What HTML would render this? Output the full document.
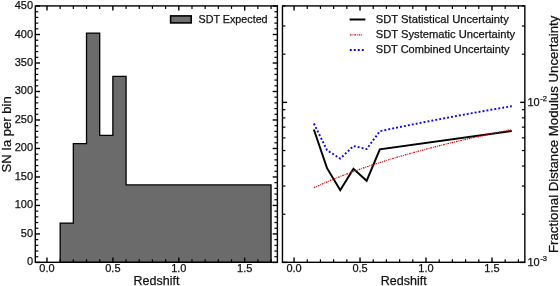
<!DOCTYPE html>
<html><head><meta charset="utf-8"><style>
html,body{margin:0;padding:0;background:#fff;}
body{width:560px;height:286px;overflow:hidden;}
svg{display:block;font-family:"Liberation Sans", sans-serif;}
text{fill:#111;stroke:#111;stroke-width:0.25px;}
</style></head><body>
<svg width="560" height="286" viewBox="0 0 560 286">
<defs><filter id="gs" x="0" y="0" width="560" height="286" filterUnits="userSpaceOnUse"><feColorMatrix type="saturate" values="0"/></filter></defs>
<rect width="560" height="286" fill="#fff"/>
<path d="M60.16,262.43 L60.16,223.11 L73.34,223.11 L73.34,143.63 L86.52,143.63 L86.52,33.03 L99.70,33.03 L99.70,135.31 L112.88,135.31 L112.88,76.39 L126.07,76.39 L126.07,184.94 L271.06,184.94 L271.06,262.43 Z" fill="#6b6b6b" stroke="#000" stroke-width="1.3" stroke-linejoin="miter"/>
<line x1="46.98" y1="262.30" x2="46.98" y2="257.60" stroke="#000" stroke-width="1.4" />
<line x1="46.98" y1="5.90" x2="46.98" y2="10.60" stroke="#000" stroke-width="1.4" />
<line x1="60.16" y1="262.30" x2="60.16" y2="259.30" stroke="#000" stroke-width="1.2" />
<line x1="60.16" y1="5.90" x2="60.16" y2="8.90" stroke="#000" stroke-width="1.2" />
<line x1="73.34" y1="262.30" x2="73.34" y2="259.30" stroke="#000" stroke-width="1.2" />
<line x1="73.34" y1="5.90" x2="73.34" y2="8.90" stroke="#000" stroke-width="1.2" />
<line x1="86.52" y1="262.30" x2="86.52" y2="259.30" stroke="#000" stroke-width="1.2" />
<line x1="86.52" y1="5.90" x2="86.52" y2="8.90" stroke="#000" stroke-width="1.2" />
<line x1="99.70" y1="262.30" x2="99.70" y2="259.30" stroke="#000" stroke-width="1.2" />
<line x1="99.70" y1="5.90" x2="99.70" y2="8.90" stroke="#000" stroke-width="1.2" />
<line x1="112.88" y1="262.30" x2="112.88" y2="257.60" stroke="#000" stroke-width="1.4" />
<line x1="112.88" y1="5.90" x2="112.88" y2="10.60" stroke="#000" stroke-width="1.4" />
<line x1="126.07" y1="262.30" x2="126.07" y2="259.30" stroke="#000" stroke-width="1.2" />
<line x1="126.07" y1="5.90" x2="126.07" y2="8.90" stroke="#000" stroke-width="1.2" />
<line x1="139.25" y1="262.30" x2="139.25" y2="259.30" stroke="#000" stroke-width="1.2" />
<line x1="139.25" y1="5.90" x2="139.25" y2="8.90" stroke="#000" stroke-width="1.2" />
<line x1="152.43" y1="262.30" x2="152.43" y2="259.30" stroke="#000" stroke-width="1.2" />
<line x1="152.43" y1="5.90" x2="152.43" y2="8.90" stroke="#000" stroke-width="1.2" />
<line x1="165.61" y1="262.30" x2="165.61" y2="259.30" stroke="#000" stroke-width="1.2" />
<line x1="165.61" y1="5.90" x2="165.61" y2="8.90" stroke="#000" stroke-width="1.2" />
<line x1="178.79" y1="262.30" x2="178.79" y2="257.60" stroke="#000" stroke-width="1.4" />
<line x1="178.79" y1="5.90" x2="178.79" y2="10.60" stroke="#000" stroke-width="1.4" />
<line x1="191.97" y1="262.30" x2="191.97" y2="259.30" stroke="#000" stroke-width="1.2" />
<line x1="191.97" y1="5.90" x2="191.97" y2="8.90" stroke="#000" stroke-width="1.2" />
<line x1="205.15" y1="262.30" x2="205.15" y2="259.30" stroke="#000" stroke-width="1.2" />
<line x1="205.15" y1="5.90" x2="205.15" y2="8.90" stroke="#000" stroke-width="1.2" />
<line x1="218.33" y1="262.30" x2="218.33" y2="259.30" stroke="#000" stroke-width="1.2" />
<line x1="218.33" y1="5.90" x2="218.33" y2="8.90" stroke="#000" stroke-width="1.2" />
<line x1="231.51" y1="262.30" x2="231.51" y2="259.30" stroke="#000" stroke-width="1.2" />
<line x1="231.51" y1="5.90" x2="231.51" y2="8.90" stroke="#000" stroke-width="1.2" />
<line x1="244.69" y1="262.30" x2="244.69" y2="257.60" stroke="#000" stroke-width="1.4" />
<line x1="244.69" y1="5.90" x2="244.69" y2="10.60" stroke="#000" stroke-width="1.4" />
<line x1="257.88" y1="262.30" x2="257.88" y2="259.30" stroke="#000" stroke-width="1.2" />
<line x1="257.88" y1="5.90" x2="257.88" y2="8.90" stroke="#000" stroke-width="1.2" />
<line x1="271.06" y1="262.30" x2="271.06" y2="259.30" stroke="#000" stroke-width="1.2" />
<line x1="271.06" y1="5.90" x2="271.06" y2="8.90" stroke="#000" stroke-width="1.2" />
<line x1="35.30" y1="262.43" x2="40.00" y2="262.43" stroke="#000" stroke-width="1.4" />
<line x1="277.40" y1="262.43" x2="272.70" y2="262.43" stroke="#000" stroke-width="1.4" />
<line x1="35.30" y1="256.73" x2="38.30" y2="256.73" stroke="#000" stroke-width="1.2" />
<line x1="277.40" y1="256.73" x2="274.40" y2="256.73" stroke="#000" stroke-width="1.2" />
<line x1="35.30" y1="251.03" x2="38.30" y2="251.03" stroke="#000" stroke-width="1.2" />
<line x1="277.40" y1="251.03" x2="274.40" y2="251.03" stroke="#000" stroke-width="1.2" />
<line x1="35.30" y1="245.34" x2="38.30" y2="245.34" stroke="#000" stroke-width="1.2" />
<line x1="277.40" y1="245.34" x2="274.40" y2="245.34" stroke="#000" stroke-width="1.2" />
<line x1="35.30" y1="239.64" x2="38.30" y2="239.64" stroke="#000" stroke-width="1.2" />
<line x1="277.40" y1="239.64" x2="274.40" y2="239.64" stroke="#000" stroke-width="1.2" />
<line x1="35.30" y1="233.94" x2="40.00" y2="233.94" stroke="#000" stroke-width="1.4" />
<line x1="277.40" y1="233.94" x2="272.70" y2="233.94" stroke="#000" stroke-width="1.4" />
<line x1="35.30" y1="228.24" x2="38.30" y2="228.24" stroke="#000" stroke-width="1.2" />
<line x1="277.40" y1="228.24" x2="274.40" y2="228.24" stroke="#000" stroke-width="1.2" />
<line x1="35.30" y1="222.54" x2="38.30" y2="222.54" stroke="#000" stroke-width="1.2" />
<line x1="277.40" y1="222.54" x2="274.40" y2="222.54" stroke="#000" stroke-width="1.2" />
<line x1="35.30" y1="216.85" x2="38.30" y2="216.85" stroke="#000" stroke-width="1.2" />
<line x1="277.40" y1="216.85" x2="274.40" y2="216.85" stroke="#000" stroke-width="1.2" />
<line x1="35.30" y1="211.15" x2="38.30" y2="211.15" stroke="#000" stroke-width="1.2" />
<line x1="277.40" y1="211.15" x2="274.40" y2="211.15" stroke="#000" stroke-width="1.2" />
<line x1="35.30" y1="205.45" x2="40.00" y2="205.45" stroke="#000" stroke-width="1.4" />
<line x1="277.40" y1="205.45" x2="272.70" y2="205.45" stroke="#000" stroke-width="1.4" />
<line x1="35.30" y1="199.75" x2="38.30" y2="199.75" stroke="#000" stroke-width="1.2" />
<line x1="277.40" y1="199.75" x2="274.40" y2="199.75" stroke="#000" stroke-width="1.2" />
<line x1="35.30" y1="194.05" x2="38.30" y2="194.05" stroke="#000" stroke-width="1.2" />
<line x1="277.40" y1="194.05" x2="274.40" y2="194.05" stroke="#000" stroke-width="1.2" />
<line x1="35.30" y1="188.36" x2="38.30" y2="188.36" stroke="#000" stroke-width="1.2" />
<line x1="277.40" y1="188.36" x2="274.40" y2="188.36" stroke="#000" stroke-width="1.2" />
<line x1="35.30" y1="182.66" x2="38.30" y2="182.66" stroke="#000" stroke-width="1.2" />
<line x1="277.40" y1="182.66" x2="274.40" y2="182.66" stroke="#000" stroke-width="1.2" />
<line x1="35.30" y1="176.96" x2="40.00" y2="176.96" stroke="#000" stroke-width="1.4" />
<line x1="277.40" y1="176.96" x2="272.70" y2="176.96" stroke="#000" stroke-width="1.4" />
<line x1="35.30" y1="171.26" x2="38.30" y2="171.26" stroke="#000" stroke-width="1.2" />
<line x1="277.40" y1="171.26" x2="274.40" y2="171.26" stroke="#000" stroke-width="1.2" />
<line x1="35.30" y1="165.56" x2="38.30" y2="165.56" stroke="#000" stroke-width="1.2" />
<line x1="277.40" y1="165.56" x2="274.40" y2="165.56" stroke="#000" stroke-width="1.2" />
<line x1="35.30" y1="159.87" x2="38.30" y2="159.87" stroke="#000" stroke-width="1.2" />
<line x1="277.40" y1="159.87" x2="274.40" y2="159.87" stroke="#000" stroke-width="1.2" />
<line x1="35.30" y1="154.17" x2="38.30" y2="154.17" stroke="#000" stroke-width="1.2" />
<line x1="277.40" y1="154.17" x2="274.40" y2="154.17" stroke="#000" stroke-width="1.2" />
<line x1="35.30" y1="148.47" x2="40.00" y2="148.47" stroke="#000" stroke-width="1.4" />
<line x1="277.40" y1="148.47" x2="272.70" y2="148.47" stroke="#000" stroke-width="1.4" />
<line x1="35.30" y1="142.77" x2="38.30" y2="142.77" stroke="#000" stroke-width="1.2" />
<line x1="277.40" y1="142.77" x2="274.40" y2="142.77" stroke="#000" stroke-width="1.2" />
<line x1="35.30" y1="137.07" x2="38.30" y2="137.07" stroke="#000" stroke-width="1.2" />
<line x1="277.40" y1="137.07" x2="274.40" y2="137.07" stroke="#000" stroke-width="1.2" />
<line x1="35.30" y1="131.38" x2="38.30" y2="131.38" stroke="#000" stroke-width="1.2" />
<line x1="277.40" y1="131.38" x2="274.40" y2="131.38" stroke="#000" stroke-width="1.2" />
<line x1="35.30" y1="125.68" x2="38.30" y2="125.68" stroke="#000" stroke-width="1.2" />
<line x1="277.40" y1="125.68" x2="274.40" y2="125.68" stroke="#000" stroke-width="1.2" />
<line x1="35.30" y1="119.98" x2="40.00" y2="119.98" stroke="#000" stroke-width="1.4" />
<line x1="277.40" y1="119.98" x2="272.70" y2="119.98" stroke="#000" stroke-width="1.4" />
<line x1="35.30" y1="114.28" x2="38.30" y2="114.28" stroke="#000" stroke-width="1.2" />
<line x1="277.40" y1="114.28" x2="274.40" y2="114.28" stroke="#000" stroke-width="1.2" />
<line x1="35.30" y1="108.58" x2="38.30" y2="108.58" stroke="#000" stroke-width="1.2" />
<line x1="277.40" y1="108.58" x2="274.40" y2="108.58" stroke="#000" stroke-width="1.2" />
<line x1="35.30" y1="102.89" x2="38.30" y2="102.89" stroke="#000" stroke-width="1.2" />
<line x1="277.40" y1="102.89" x2="274.40" y2="102.89" stroke="#000" stroke-width="1.2" />
<line x1="35.30" y1="97.19" x2="38.30" y2="97.19" stroke="#000" stroke-width="1.2" />
<line x1="277.40" y1="97.19" x2="274.40" y2="97.19" stroke="#000" stroke-width="1.2" />
<line x1="35.30" y1="91.49" x2="40.00" y2="91.49" stroke="#000" stroke-width="1.4" />
<line x1="277.40" y1="91.49" x2="272.70" y2="91.49" stroke="#000" stroke-width="1.4" />
<line x1="35.30" y1="85.79" x2="38.30" y2="85.79" stroke="#000" stroke-width="1.2" />
<line x1="277.40" y1="85.79" x2="274.40" y2="85.79" stroke="#000" stroke-width="1.2" />
<line x1="35.30" y1="80.09" x2="38.30" y2="80.09" stroke="#000" stroke-width="1.2" />
<line x1="277.40" y1="80.09" x2="274.40" y2="80.09" stroke="#000" stroke-width="1.2" />
<line x1="35.30" y1="74.40" x2="38.30" y2="74.40" stroke="#000" stroke-width="1.2" />
<line x1="277.40" y1="74.40" x2="274.40" y2="74.40" stroke="#000" stroke-width="1.2" />
<line x1="35.30" y1="68.70" x2="38.30" y2="68.70" stroke="#000" stroke-width="1.2" />
<line x1="277.40" y1="68.70" x2="274.40" y2="68.70" stroke="#000" stroke-width="1.2" />
<line x1="35.30" y1="63.00" x2="40.00" y2="63.00" stroke="#000" stroke-width="1.4" />
<line x1="277.40" y1="63.00" x2="272.70" y2="63.00" stroke="#000" stroke-width="1.4" />
<line x1="35.30" y1="57.30" x2="38.30" y2="57.30" stroke="#000" stroke-width="1.2" />
<line x1="277.40" y1="57.30" x2="274.40" y2="57.30" stroke="#000" stroke-width="1.2" />
<line x1="35.30" y1="51.60" x2="38.30" y2="51.60" stroke="#000" stroke-width="1.2" />
<line x1="277.40" y1="51.60" x2="274.40" y2="51.60" stroke="#000" stroke-width="1.2" />
<line x1="35.30" y1="45.91" x2="38.30" y2="45.91" stroke="#000" stroke-width="1.2" />
<line x1="277.40" y1="45.91" x2="274.40" y2="45.91" stroke="#000" stroke-width="1.2" />
<line x1="35.30" y1="40.21" x2="38.30" y2="40.21" stroke="#000" stroke-width="1.2" />
<line x1="277.40" y1="40.21" x2="274.40" y2="40.21" stroke="#000" stroke-width="1.2" />
<line x1="35.30" y1="34.51" x2="40.00" y2="34.51" stroke="#000" stroke-width="1.4" />
<line x1="277.40" y1="34.51" x2="272.70" y2="34.51" stroke="#000" stroke-width="1.4" />
<line x1="35.30" y1="28.81" x2="38.30" y2="28.81" stroke="#000" stroke-width="1.2" />
<line x1="277.40" y1="28.81" x2="274.40" y2="28.81" stroke="#000" stroke-width="1.2" />
<line x1="35.30" y1="23.11" x2="38.30" y2="23.11" stroke="#000" stroke-width="1.2" />
<line x1="277.40" y1="23.11" x2="274.40" y2="23.11" stroke="#000" stroke-width="1.2" />
<line x1="35.30" y1="17.42" x2="38.30" y2="17.42" stroke="#000" stroke-width="1.2" />
<line x1="277.40" y1="17.42" x2="274.40" y2="17.42" stroke="#000" stroke-width="1.2" />
<line x1="35.30" y1="11.72" x2="38.30" y2="11.72" stroke="#000" stroke-width="1.2" />
<line x1="277.40" y1="11.72" x2="274.40" y2="11.72" stroke="#000" stroke-width="1.2" />
<line x1="35.30" y1="6.02" x2="40.00" y2="6.02" stroke="#000" stroke-width="1.4" />
<line x1="277.40" y1="6.02" x2="272.70" y2="6.02" stroke="#000" stroke-width="1.4" />
<rect x="35.3" y="5.9" width="242.10" height="256.40" fill="none" stroke="#000" stroke-width="1.4"/>
<rect x="170.6" y="15.9" width="20.6" height="7" fill="#707070" stroke="#000" stroke-width="1.6"/>
<line x1="294.06" y1="262.30" x2="294.06" y2="257.60" stroke="#000" stroke-width="1.4" />
<line x1="294.06" y1="5.90" x2="294.06" y2="10.60" stroke="#000" stroke-width="1.4" />
<line x1="307.25" y1="262.30" x2="307.25" y2="259.30" stroke="#000" stroke-width="1.2" />
<line x1="307.25" y1="5.90" x2="307.25" y2="8.90" stroke="#000" stroke-width="1.2" />
<line x1="320.45" y1="262.30" x2="320.45" y2="259.30" stroke="#000" stroke-width="1.2" />
<line x1="320.45" y1="5.90" x2="320.45" y2="8.90" stroke="#000" stroke-width="1.2" />
<line x1="333.64" y1="262.30" x2="333.64" y2="259.30" stroke="#000" stroke-width="1.2" />
<line x1="333.64" y1="5.90" x2="333.64" y2="8.90" stroke="#000" stroke-width="1.2" />
<line x1="346.84" y1="262.30" x2="346.84" y2="259.30" stroke="#000" stroke-width="1.2" />
<line x1="346.84" y1="5.90" x2="346.84" y2="8.90" stroke="#000" stroke-width="1.2" />
<line x1="360.03" y1="262.30" x2="360.03" y2="257.60" stroke="#000" stroke-width="1.4" />
<line x1="360.03" y1="5.90" x2="360.03" y2="10.60" stroke="#000" stroke-width="1.4" />
<line x1="373.23" y1="262.30" x2="373.23" y2="259.30" stroke="#000" stroke-width="1.2" />
<line x1="373.23" y1="5.90" x2="373.23" y2="8.90" stroke="#000" stroke-width="1.2" />
<line x1="386.42" y1="262.30" x2="386.42" y2="259.30" stroke="#000" stroke-width="1.2" />
<line x1="386.42" y1="5.90" x2="386.42" y2="8.90" stroke="#000" stroke-width="1.2" />
<line x1="399.62" y1="262.30" x2="399.62" y2="259.30" stroke="#000" stroke-width="1.2" />
<line x1="399.62" y1="5.90" x2="399.62" y2="8.90" stroke="#000" stroke-width="1.2" />
<line x1="412.81" y1="262.30" x2="412.81" y2="259.30" stroke="#000" stroke-width="1.2" />
<line x1="412.81" y1="5.90" x2="412.81" y2="8.90" stroke="#000" stroke-width="1.2" />
<line x1="426.01" y1="262.30" x2="426.01" y2="257.60" stroke="#000" stroke-width="1.4" />
<line x1="426.01" y1="5.90" x2="426.01" y2="10.60" stroke="#000" stroke-width="1.4" />
<line x1="439.21" y1="262.30" x2="439.21" y2="259.30" stroke="#000" stroke-width="1.2" />
<line x1="439.21" y1="5.90" x2="439.21" y2="8.90" stroke="#000" stroke-width="1.2" />
<line x1="452.40" y1="262.30" x2="452.40" y2="259.30" stroke="#000" stroke-width="1.2" />
<line x1="452.40" y1="5.90" x2="452.40" y2="8.90" stroke="#000" stroke-width="1.2" />
<line x1="465.60" y1="262.30" x2="465.60" y2="259.30" stroke="#000" stroke-width="1.2" />
<line x1="465.60" y1="5.90" x2="465.60" y2="8.90" stroke="#000" stroke-width="1.2" />
<line x1="478.79" y1="262.30" x2="478.79" y2="259.30" stroke="#000" stroke-width="1.2" />
<line x1="478.79" y1="5.90" x2="478.79" y2="8.90" stroke="#000" stroke-width="1.2" />
<line x1="491.99" y1="262.30" x2="491.99" y2="257.60" stroke="#000" stroke-width="1.4" />
<line x1="491.99" y1="5.90" x2="491.99" y2="10.60" stroke="#000" stroke-width="1.4" />
<line x1="505.18" y1="262.30" x2="505.18" y2="259.30" stroke="#000" stroke-width="1.2" />
<line x1="505.18" y1="5.90" x2="505.18" y2="8.90" stroke="#000" stroke-width="1.2" />
<line x1="518.38" y1="262.30" x2="518.38" y2="259.30" stroke="#000" stroke-width="1.2" />
<line x1="518.38" y1="5.90" x2="518.38" y2="8.90" stroke="#000" stroke-width="1.2" />
<line x1="282.45" y1="262.40" x2="287.15" y2="262.40" stroke="#000" stroke-width="1.4" />
<line x1="524.85" y1="262.40" x2="520.15" y2="262.40" stroke="#000" stroke-width="1.4" />
<line x1="282.45" y1="214.22" x2="285.45" y2="214.22" stroke="#000" stroke-width="1.2" />
<line x1="524.85" y1="214.22" x2="521.85" y2="214.22" stroke="#000" stroke-width="1.2" />
<line x1="282.45" y1="186.04" x2="285.45" y2="186.04" stroke="#000" stroke-width="1.2" />
<line x1="524.85" y1="186.04" x2="521.85" y2="186.04" stroke="#000" stroke-width="1.2" />
<line x1="282.45" y1="166.04" x2="285.45" y2="166.04" stroke="#000" stroke-width="1.2" />
<line x1="524.85" y1="166.04" x2="521.85" y2="166.04" stroke="#000" stroke-width="1.2" />
<line x1="282.45" y1="150.53" x2="285.45" y2="150.53" stroke="#000" stroke-width="1.2" />
<line x1="524.85" y1="150.53" x2="521.85" y2="150.53" stroke="#000" stroke-width="1.2" />
<line x1="282.45" y1="137.86" x2="285.45" y2="137.86" stroke="#000" stroke-width="1.2" />
<line x1="524.85" y1="137.86" x2="521.85" y2="137.86" stroke="#000" stroke-width="1.2" />
<line x1="282.45" y1="127.15" x2="285.45" y2="127.15" stroke="#000" stroke-width="1.2" />
<line x1="524.85" y1="127.15" x2="521.85" y2="127.15" stroke="#000" stroke-width="1.2" />
<line x1="282.45" y1="117.87" x2="285.45" y2="117.87" stroke="#000" stroke-width="1.2" />
<line x1="524.85" y1="117.87" x2="521.85" y2="117.87" stroke="#000" stroke-width="1.2" />
<line x1="282.45" y1="109.68" x2="285.45" y2="109.68" stroke="#000" stroke-width="1.2" />
<line x1="524.85" y1="109.68" x2="521.85" y2="109.68" stroke="#000" stroke-width="1.2" />
<line x1="282.45" y1="102.36" x2="287.15" y2="102.36" stroke="#000" stroke-width="1.4" />
<line x1="524.85" y1="102.36" x2="520.15" y2="102.36" stroke="#000" stroke-width="1.4" />
<line x1="282.45" y1="54.18" x2="285.45" y2="54.18" stroke="#000" stroke-width="1.2" />
<line x1="524.85" y1="54.18" x2="521.85" y2="54.18" stroke="#000" stroke-width="1.2" />
<line x1="282.45" y1="26.00" x2="285.45" y2="26.00" stroke="#000" stroke-width="1.2" />
<line x1="524.85" y1="26.00" x2="521.85" y2="26.00" stroke="#000" stroke-width="1.2" />
<line x1="282.45" y1="6.00" x2="285.45" y2="6.00" stroke="#000" stroke-width="1.2" />
<line x1="524.85" y1="6.00" x2="521.85" y2="6.00" stroke="#000" stroke-width="1.2" />
<path d="M313.85,129.50 L327.05,168.20 L340.24,190.20 L353.44,168.80 L366.63,180.80 L379.83,149.30 L511.78,131.00" fill="none" stroke="#000" stroke-width="2"/>
<path d="M313.85,187.62 L327.05,181.83 L340.24,176.48 L353.44,171.51 L366.63,166.87 L379.83,162.53 L393.02,158.44 L406.22,154.58 L419.41,150.92 L432.61,147.44 L445.80,144.13 L459.00,140.97 L472.19,137.95 L485.39,135.05 L498.58,132.27 L511.78,129.60" fill="none" stroke="#d00000" stroke-width="1.25" stroke-dasharray="1.6 1.0 0.8 1.0"/>
<path d="M313.85,123.52 L327.05,150.26 L340.24,158.58 L353.44,146.04 L366.63,149.06 L379.83,131.20 L393.02,128.43 L406.22,125.73 L419.41,123.09 L432.61,120.51 L445.80,117.99 L459.00,115.53 L472.19,113.12 L485.39,110.77 L498.58,108.46 L511.78,106.20" fill="none" stroke="#00f" stroke-width="1.9" stroke-dasharray="1.9 2.1"/>
<rect x="282.45" y="5.9" width="242.40" height="256.40" fill="none" stroke="#000" stroke-width="1.4"/>
<line x1="349.60" y1="19.50" x2="365.40" y2="19.50" stroke="#000" stroke-width="2" />
<line x1="349.90" y1="34.80" x2="363.20" y2="34.80" stroke="#d00000" stroke-width="1.25" stroke-dasharray="1.6 1.0 0.8 1.0"/>
<line x1="349.80" y1="50.00" x2="365.40" y2="50.00" stroke="#00f" stroke-width="1.9" stroke-dasharray="1.9 2.1"/>
<g filter="url(#gs)">
<text x="46.98" y="271.90" font-size="11" text-anchor="middle" >0.0</text>
<text x="112.88" y="271.90" font-size="11" text-anchor="middle" >0.5</text>
<text x="178.79" y="271.90" font-size="11" text-anchor="middle" >1.0</text>
<text x="244.69" y="271.90" font-size="11" text-anchor="middle" >1.5</text>
<text x="33.10" y="265.43" font-size="11" text-anchor="end" >0</text>
<text x="33.10" y="236.94" font-size="11" text-anchor="end" >50</text>
<text x="33.10" y="208.45" font-size="11" text-anchor="end" >100</text>
<text x="33.10" y="179.96" font-size="11" text-anchor="end" >150</text>
<text x="33.10" y="151.47" font-size="11" text-anchor="end" >200</text>
<text x="33.10" y="122.98" font-size="11" text-anchor="end" >250</text>
<text x="33.10" y="94.49" font-size="11" text-anchor="end" >300</text>
<text x="33.10" y="66.00" font-size="11" text-anchor="end" >350</text>
<text x="33.10" y="37.51" font-size="11" text-anchor="end" >400</text>
<text x="33.10" y="9.02" font-size="11" text-anchor="end" >450</text>
<text x="198.60" y="23.00" font-size="11" text-anchor="start" textLength="69" lengthAdjust="spacingAndGlyphs" >SDT Expected</text>
<text x="156.51" y="284.60" font-size="12.5" text-anchor="middle" >Redshift</text>
<text x="0" y="0" font-size="13.05" text-anchor="middle" transform="translate(10.9,134.4) rotate(-90)">SN Ia per bin</text>
<text x="294.06" y="271.90" font-size="11" text-anchor="middle" >0.0</text>
<text x="360.03" y="271.90" font-size="11" text-anchor="middle" >0.5</text>
<text x="426.01" y="271.90" font-size="11" text-anchor="middle" >1.0</text>
<text x="491.99" y="271.90" font-size="11" text-anchor="middle" >1.5</text>
<text x="527.45" y="266.30" font-size="11" text-anchor="start" >10</text>
<text x="540.35" y="260.80" font-size="7.5" text-anchor="start" >-3</text>
<text x="527.45" y="106.26" font-size="11" text-anchor="start" >10</text>
<text x="540.35" y="100.76" font-size="7.5" text-anchor="start" >-2</text>
<text x="375.80" y="23.30" font-size="11.2" text-anchor="start" textLength="133" lengthAdjust="spacingAndGlyphs" >SDT Statistical Uncertainty</text>
<text x="375.80" y="38.20" font-size="11.2" text-anchor="start" textLength="139.4" lengthAdjust="spacingAndGlyphs" >SDT Systematic Uncertainty</text>
<text x="375.80" y="53.10" font-size="11.2" text-anchor="start" textLength="133.7" lengthAdjust="spacingAndGlyphs" >SDT Combined Uncertainty</text>
<text x="403.71" y="284.60" font-size="12.5" text-anchor="middle" >Redshift</text>
<text x="0" y="0" font-size="13.22" text-anchor="middle" transform="translate(557.6,134.3) rotate(-90)">Fractional Distance Modulus Uncertainty</text>
</g>
</svg>
</body></html>
